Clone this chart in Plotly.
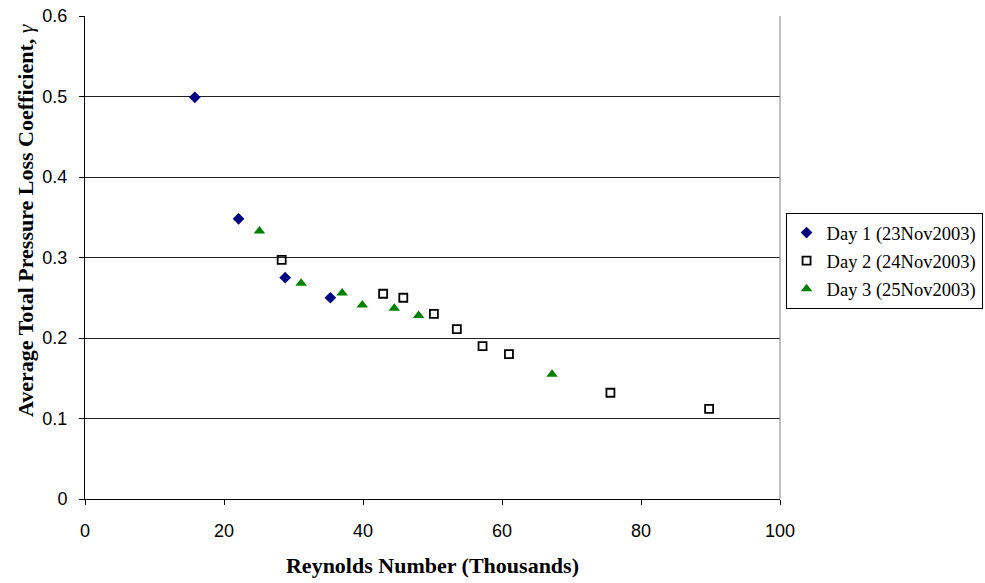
import plotly.graph_objects as go

# Data (Reynolds number in thousands, average total pressure loss coefficient)
day1_re = [15.8, 22.1, 28.8, 35.3]
day1_gamma = [0.499, 0.348, 0.275, 0.250]

day2_re = [28.3, 42.9, 45.8, 50.2, 53.5, 57.2, 61.0, 75.6, 89.8]
day2_gamma = [0.297, 0.255, 0.250, 0.230, 0.211, 0.190, 0.180, 0.132, 0.112]

day3_re = [25.1, 31.1, 37.0, 39.9, 44.5, 48.0, 67.2]
day3_gamma = [0.333, 0.268, 0.256, 0.241, 0.237, 0.228, 0.155]

names = ["Day 1 (23Nov2003)", "Day 2 (24Nov2003)", "Day 3 (25Nov2003)"]

x_ticks = [0, 20, 40, 60, 80, 100]
y_ticks = [0, 0.1, 0.2, 0.3, 0.4, 0.5, 0.6]
y_tick_labels = ["0", "0.1", "0.2", "0.3", "0.4", "0.5", "0.6"]

fig = go.Figure()
fig.add_trace(go.Scatter(x=day1_re, y=day1_gamma, mode="markers", name=names[0],
                         legendgroup="d1",
                         marker=dict(symbol="diamond", size=9, color="#000080")))
fig.add_trace(go.Scatter(x=day2_re, y=day2_gamma, mode="markers", name=names[1],
                         legendgroup="d2",
                         marker=dict(symbol="square-open", size=8, color="#000000",
                                     line=dict(width=1.8, color="#000000"))))
fig.add_trace(go.Scatter(x=day3_re, y=day3_gamma, mode="markers", name=names[2],
                         legendgroup="d3",
                         marker=dict(symbol="triangle-up", size=10, color="#008000")))

serif = "Liberation Serif, Times New Roman, serif"
sans = "Liberation Sans, Arial, sans-serif"

fig.update_layout(
    width=985, height=583,
    margin=dict(l=85, r=205, t=16, b=84, autoexpand=False),
    paper_bgcolor="white", plot_bgcolor="white",
    showlegend=True,
    legend=dict(
        x=1.008, y=0.592, xanchor="left", yanchor="top",
        bordercolor="black", borderwidth=1,
        font=dict(family=serif, size=18.5, color="black"),
        tracegroupgap=1,
        bgcolor="white",
    ),
    xaxis=dict(
        range=[0, 100], tickvals=x_ticks,
        showgrid=False, zeroline=False, automargin=False,
        showline=True, linecolor="black", linewidth=1,
        ticks="outside", ticklen=5, tickcolor="black",
        ticklabelstandoff=10,
        tickfont=dict(family=sans, size=18, color="black"),
        title=dict(text="<b>Reynolds Number (Thousands)</b>",
                   font=dict(family=serif, size=22, color="black"), standoff=18),
    ),
    yaxis=dict(
        range=[0, 0.6], tickvals=y_ticks, ticktext=y_tick_labels,
        showgrid=True, gridcolor="#222222", gridwidth=1.4,
        zeroline=False, automargin=False,
        showline=True, linecolor="black", linewidth=1,
        ticks="outside", ticklen=5, tickcolor="black",
        ticklabelstandoff=8,
        tickfont=dict(family=sans, size=18, color="black"),
    ),
    annotations=[dict(
        text="<b>Average Total Pressure Loss Coefficient, </b><i>γ</i>",
        textangle=-90, xref="paper", yref="paper",
        x=(25 - 85) / 695, y=(499 - 220) / 483,
        xanchor="center", yanchor="middle", showarrow=False,
        font=dict(family=serif, size=22, color="black"),
    )],
    shapes=[dict(type="line", xref="paper", yref="paper", x0=1, x1=1, y0=0, y1=1,
                 line=dict(color="#808080", width=1))],
)

fig.write_html("out.html", config={"displayModeBar": False},
               post_script="document.body.style.margin='0px';")
